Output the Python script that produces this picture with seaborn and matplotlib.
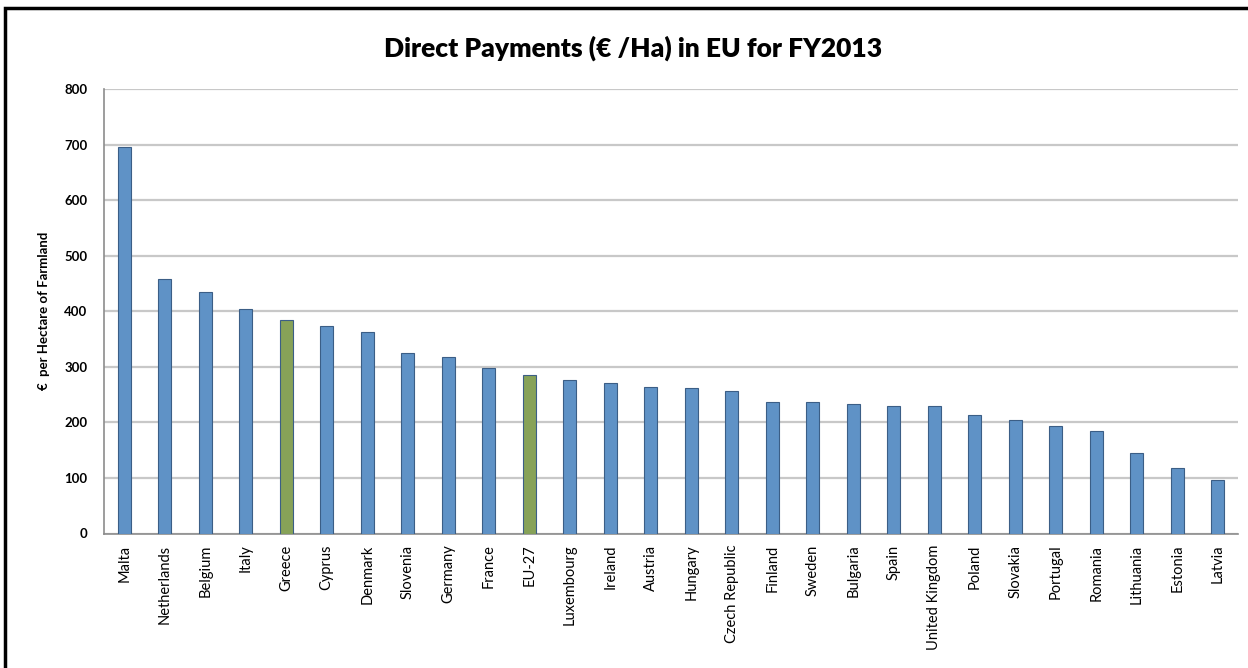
import matplotlib
matplotlib.use("Agg")
import matplotlib.pyplot as plt
import seaborn as sns
from matplotlib.patches import Rectangle

# data
countries = ["Malta", "Netherlands", "Belgium", "Italy", "Greece", "Cyprus",
             "Denmark", "Slovenia", "Germany", "France", "EU-27", "Luxembourg",
             "Ireland", "Austria", "Hungary", "Czech Republic", "Finland",
             "Sweden", "Bulgaria", "Spain", "United Kingdom", "Poland",
             "Slovakia", "Portugal", "Romania", "Lithuania", "Estonia", "Latvia"]
payments = [695, 458, 434, 404, 384, 373, 363, 324, 318, 297, 285, 276,
            270, 264, 261, 257, 236, 236, 233, 230, 230, 214, 205, 193,
            184, 145, 117, 96]
highlighted = ["Greece", "EU-27"]

blue = "#5F92C6"
green = "#87A258"
palette = [green if c in highlighted else blue for c in countries]

sns.set_style("white")
plt.rcParams["font.family"] = ["Lato", "DejaVu Sans"]
plt.rcParams["text.color"] = "black"
plt.rcParams["xtick.color"] = "black"
plt.rcParams["ytick.color"] = "black"
plt.rcParams["axes.labelcolor"] = "black"

fig = plt.figure(figsize=(12.48, 6.68), dpi=100)
ax = fig.add_axes([104 / 1248, 1 - 533.5 / 668, (1238 - 104) / 1248, (533.5 - 89) / 668])

sns.barplot(x=countries, y=payments, hue=countries, palette=palette,
            legend=False, width=0.33, edgecolor="#3B5E86", linewidth=0.8,
            saturation=1, ax=ax, zorder=3)

ax.set_ylim(0, 800)
ax.set_yticks(range(0, 801, 100))
ax.set_xlim(-0.5, len(countries) - 0.5)
ax.grid(axis="y", color="#C8C8C8", linewidth=1.6, zorder=0)
ax.set_axisbelow(True)
for side in ["top", "right"]:
    ax.spines[side].set_visible(False)
for side in ["left", "bottom"]:
    ax.spines[side].set_color("#8C8C8C")
    ax.spines[side].set_linewidth(1.2)

ax.tick_params(axis="y", length=0, pad=12, labelsize=9.5)
ax.tick_params(axis="x", length=0, pad=8, labelsize=10.5)
plt.setp(ax.get_xticklabels(), rotation=90, va="top", ha="center")
for lbl in ax.get_yticklabels():
    lbl.set_fontweight("bold")

ax.set_xlabel("")
ax.set_ylabel("€  per Hectare of Farmland", fontsize=9.5, fontweight="bold", labelpad=10)

fig.text(0.507, 1 - 48 / 668, "Direct Payments (€ /Ha) in EU for FY2013",
         ha="center", va="center", fontsize=19, fontweight="heavy")

# outer frame like the original screenshot
fig.patches.append(Rectangle((5 / 1248, -0.05), 1.1, 1 - 8 / 668 + 0.05,
                             transform=fig.transFigure, fill=False,
                             edgecolor="black", linewidth=2.5))

fig.savefig("out.png", dpi=100)
